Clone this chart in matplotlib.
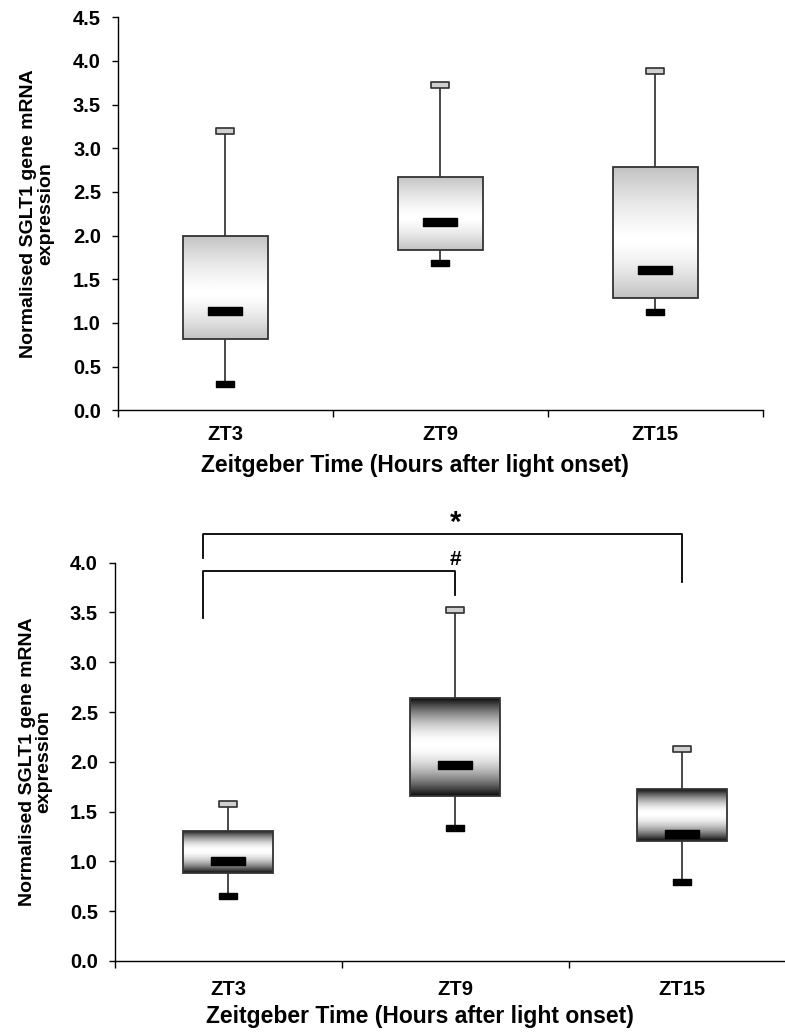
import numpy as np
import matplotlib
matplotlib.use("Agg")
import matplotlib.pyplot as plt
from matplotlib.patches import Rectangle
from matplotlib.path import Path

plt.rcParams['font.family'] = ['Liberation Sans', 'DejaVu Sans']
plt.rcParams['font.weight'] = 'bold'

zt = ['ZT3', 'ZT9', 'ZT15']

# top panel
a_min = [0.30, 1.69, 1.13]
a_q1 = [0.82, 1.83, 1.29]
a_med = [1.14, 2.16, 1.60]
a_q3 = [2.00, 2.67, 2.79]
a_max = [3.20, 3.73, 3.89]

# bottom panel
b_min = [0.65, 1.34, 0.79]
b_q1 = [0.88, 1.66, 1.21]
b_med = [1.00, 1.97, 1.28]
b_q3 = [1.31, 2.64, 1.73]
b_max = [1.58, 3.53, 2.13]

# significance brackets (from, to, symbol, top, left drop, right drop)
sig_from = [-0.11, -0.11]
sig_to = [1, 2]
sig_sym = ['#', '*']
sig_top = [3.92, 4.29]
sig_left = [3.44, 4.05]
sig_right = [3.68, 3.81]

ylab = 'Normalised SGLT1 gene mRNA\nexpression'
xlab = 'Zeitgeber Time (Hours after light onset)'


def rect_marker(w, h):
    return Path([(-w, -h), (w, -h), (w, h), (-w, h), (-w, -h)],
                [Path.MOVETO, Path.LINETO, Path.LINETO, Path.LINETO, Path.CLOSEPOLY])


med_mk = rect_marker(4.2, 1.0)
cap_mk = rect_marker(3.6, 1.0)


def gradient(g, c, p, n=200):
    t = np.linspace(0, 1, n)
    d = np.where(t < c, (c - t) / c, (t - c) / (1 - c))
    v = 1 - (1 - g) * d ** p
    return v.reshape(-1, 1)


def draw_panel(ax, mins, q1, med, q3, maxs, ymax, grad, xpad, tpad, ylx, xlx):
    x = np.arange(len(zt))
    w = 0.395
    for i in x:
        ax.plot([i, i], [q3[i], maxs[i]], color='#3a3a3a', lw=1.3, zorder=2)
        ax.plot([i, i], [mins[i], q1[i]], color='#3a3a3a', lw=1.3, zorder=2)
        rect = Rectangle((i - w / 2, q1[i]), w, q3[i] - q1[i], facecolor='none',
                         edgecolor='#333333', lw=1.3, zorder=4)
        ax.add_patch(rect)
        im = ax.imshow(grad, cmap='gray', vmin=0, vmax=1, aspect='auto',
                       extent=[i - w / 2, i + w / 2, q1[i], q3[i]], zorder=3,
                       interpolation='bilinear')
        im.set_clip_path(rect)
    ax.plot(x, med, ls='none', marker=med_mk, ms=24, color='black', zorder=5)
    ax.plot(x, maxs, ls='none', marker=cap_mk, ms=13, mfc='#d0d0d0', mec='#303030',
            mew=1.2, zorder=5)
    ax.plot(x, mins, ls='none', marker=cap_mk, ms=13, color='black', zorder=5)

    ax.set_xlim(-0.5, 2.5)
    ax.set_ylim(0, ymax)
    ax.set_yticks(np.arange(0, ymax + 0.01, 0.5))
    ax.set_yticklabels([f'{v:.1f}' for v in np.arange(0, ymax + 0.01, 0.5)])
    ax.set_xticks(x)
    ax.set_xticklabels(zt)
    ax.set_xticks([-0.5, 0.5, 1.5, 2.5], minor=True)
    ax.tick_params(axis='x', which='major', length=0, pad=xpad, labelsize=14.5)
    ax.tick_params(axis='x', which='minor', length=5, width=1)
    ax.tick_params(axis='y', length=4, width=1, pad=8, labelsize=14.5)
    for s in ['top', 'right']:
        ax.spines[s].set_visible(False)
    for s in ['left', 'bottom']:
        ax.spines[s].set_linewidth(1.0)
    ax.set_ylabel(ylab, fontsize=14, fontweight='bold', linespacing=1.0)
    ax.yaxis.set_label_coords(ylx, 0.5)
    ax.set_xlabel(xlab, fontsize=16.5, fontweight='bold', labelpad=tpad)
    ax.xaxis.label.set_x(xlx)


fig = plt.figure(figsize=(7.85, 10.34), dpi=100)
ax1 = fig.add_axes([0.150, 0.6033, 0.8216, 0.3800])
ax2 = fig.add_axes([0.146, 0.0706, 0.8675, 0.3852])

draw_panel(ax1, a_min, a_q1, a_med, a_q3, a_max, 4.5,
           gradient(0.76, 0.56, 1.4), 11, 7, -0.099, 0.461)
draw_panel(ax2, b_min, b_q1, b_med, b_q3, b_max, 4.0,
           gradient(0.05, 0.47, 1.8), 14, 4, -0.091, 0.448)

for x0, x1, s, top, yl, yr in zip(sig_from, sig_to, sig_sym, sig_top, sig_left, sig_right):
    ax2.plot([x0, x0, x1, x1], [yl, top, top, yr], color='black', lw=1.3,
             clip_on=False, zorder=6)
    if s == '*':
        ax2.text(x1 - 1, top - 0.03, s, ha='center', va='bottom',
                 fontsize=21, fontweight='bold', clip_on=False)
    else:
        ax2.text(x1, top + 0.02, s, ha='center', va='bottom',
                 fontsize=15, fontweight='bold', clip_on=False)

fig.savefig('out.png', dpi=100)
